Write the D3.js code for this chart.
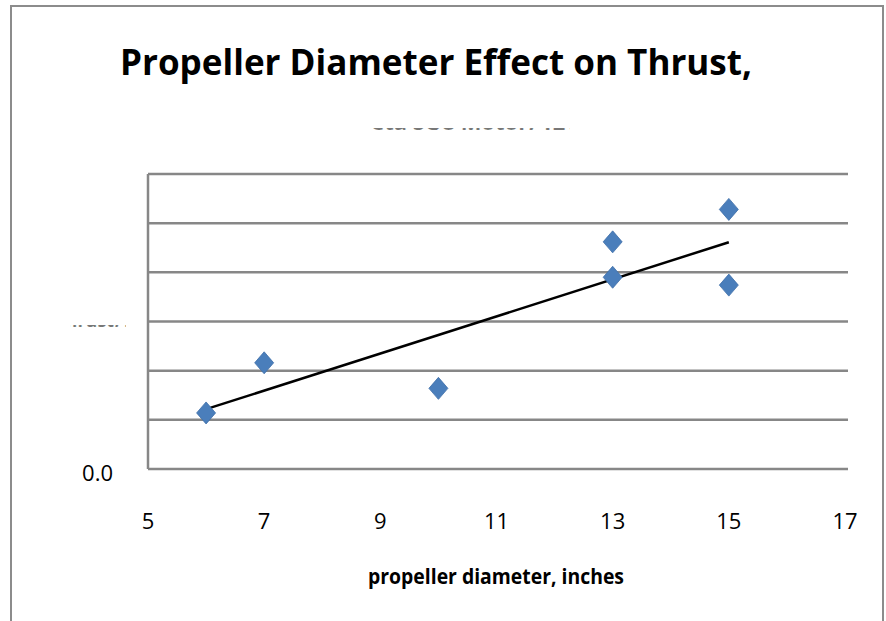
<!DOCTYPE html>
<html>
<head>
<meta charset="utf-8">
<style>
body { margin: 0; background: #fff; }
text { font-family: "Open Sans", "Liberation Sans", sans-serif; }
</style>
</head>
<body>
<svg width="886" height="621"></svg>
<script src="https://d3js.org/d3.v7.min.js"></script>
<script>
var svg = d3.select("svg"),
    width = +svg.attr("width"),
    height = +svg.attr("height");

// propeller diameter (inches) and thrust
var diameters = [6, 7, 10, 13, 13, 15, 15];
var thrust = [0.57, 1.08, 0.82, 2.31, 1.95, 2.64, 1.87];
var xTicks = [5, 7, 9, 11, 13, 15, 17];
var yTicks = [0, 0.5, 1.0, 1.5, 2.0, 2.5, 3.0];

var x = d3.scaleLinear().domain([5, 17]).range([148, 845]);
var y = d3.scaleLinear().domain([0, 3]).range([469, 174]);

// outer chart border (bottom is cut off)
svg.append("path")
    .attr("d", "M11,621V6H883V621")
    .attr("fill", "none")
    .attr("stroke", "#8c8c8c")
    .attr("stroke-width", 2);

// gridlines
svg.append("g").selectAll("line")
  .data(yTicks.slice(1))
  .enter().append("line")
    .attr("x1", 148).attr("x2", 848)
    .attr("y1", function(d) { return y(d); })
    .attr("y2", function(d) { return y(d); })
    .attr("stroke", "#878787")
    .attr("stroke-width", 2.5);

// axes lines
svg.append("line")
    .attr("x1", 148).attr("x2", 848)
    .attr("y1", y(0)).attr("y2", y(0))
    .attr("stroke", "#878787").attr("stroke-width", 2.5);
svg.append("line")
    .attr("x1", 148).attr("x2", 148)
    .attr("y1", y(3)).attr("y2", y(0))
    .attr("stroke", "#878787").attr("stroke-width", 2.5);

// x tick labels
svg.append("g").selectAll("text")
  .data(xTicks)
  .enter().append("text")
    .attr("x", function(d) { return x(d); })
    .attr("y", 529)
    .attr("text-anchor", "middle")
    .attr("font-size", 22)
    .attr("fill", "#000")
    .text(function(d) { return d; });

// only the 0.0 y label is visible
svg.append("text")
    .attr("x", 113).attr("y", y(0) + 12)
    .attr("text-anchor", "end")
    .attr("font-size", 22)
    .text(d3.format(".1f")(yTicks[0]));

// clipped texts (only the bottom sliver shows)
var defs = svg.append("defs");
defs.append("clipPath").attr("id", "clipSub")
  .append("rect").attr("x", 370).attr("y", 128.5).attr("width", 200).attr("height", 1);
defs.append("clipPath").attr("id", "clipY")
  .append("rect").attr("x", 70).attr("y", 325.5).attr("width", 56).attr("height", 1);

svg.append("text")
    .attr("clip-path", "url(#clipSub)")
    .attr("x", 468).attr("y", 129.5)
    .attr("text-anchor", "middle")
    .attr("font-size", 22)
    .attr("font-weight", "bold")
    .text("Beta SQ8 Motor, 12V");

svg.append("text")
    .attr("clip-path", "url(#clipY)")
    .attr("x", 98).attr("y", 326.5)
    .attr("text-anchor", "middle")
    .attr("font-size", 18)
    .attr("font-weight", "bold")
    .text("Thrust, lb");

// title
svg.append("text")
    .attr("x", 436).attr("y", 75)
    .attr("text-anchor", "middle")
    .attr("font-size", 36)
    .attr("font-weight", "bold")
    .attr("textLength", 632)
    .attr("lengthAdjust", "spacingAndGlyphs")
    .text("Propeller Diameter Effect on Thrust,");

// x axis title
svg.append("text")
    .attr("x", 496).attr("y", 584)
    .attr("text-anchor", "middle")
    .attr("font-size", 21)
    .attr("font-weight", "bold")
    .attr("textLength", 256)
    .attr("lengthAdjust", "spacingAndGlyphs")
    .text("propeller diameter, inches");

// linear trendline (least squares)
var mx = d3.mean(diameters), my = d3.mean(thrust);
var sxy = d3.sum(diameters, function(d, i) { return (d - mx) * (thrust[i] - my); });
var sxx = d3.sum(diameters, function(d) { return (d - mx) * (d - mx); });
var slope = sxy / sxx, icpt = my - slope * mx;
var xr = d3.extent(diameters);
svg.append("path")
    .datum(xr)
    .attr("d", d3.line()
      .x(function(d) { return x(d); })
      .y(function(d) { return y(icpt + slope * d); }))
    .attr("stroke", "#000")
    .attr("stroke-width", 2.5)
    .attr("fill", "none");

// diamond markers
svg.append("g").selectAll("path")
  .data(diameters)
  .enter().append("path")
    .attr("transform", function(d, i) { return "translate(" + x(d) + "," + y(thrust[i]) + ")"; })
    .attr("d", "M0,-11L9.5,0L0,11L-9.5,0Z")
    .attr("fill", "#4a7ebb")
    .attr("stroke", "#3f6fa8")
    .attr("stroke-width", 0.8);
</script>
</body>
</html>
